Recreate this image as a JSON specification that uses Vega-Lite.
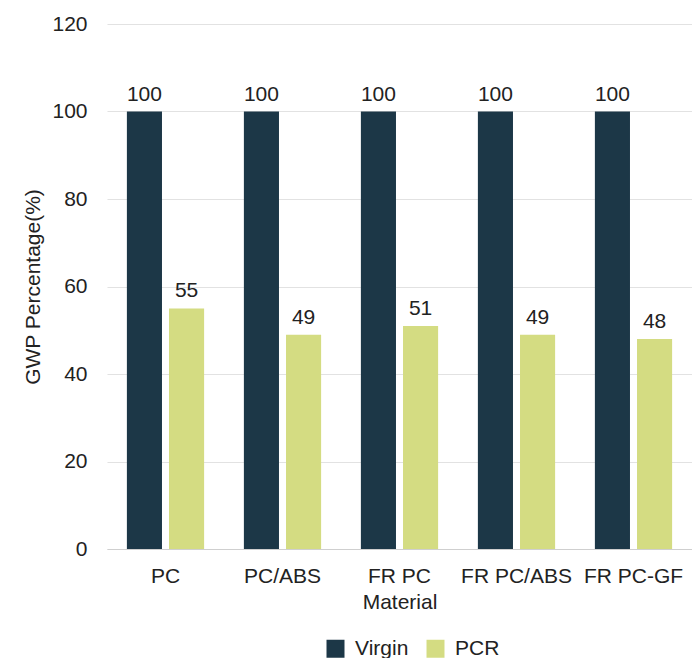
{
  "$schema": "https://vega.github.io/schema/vega-lite/v6.json",
  "autosize": "none",
  "padding": {"left": 107, "top": 24, "right": 0, "bottom": 109},
  "width": 585,
  "height": 525,
  "background": "white",
  "config": {
    "font": "Liberation Sans",
    "view": {"stroke": null}
  },
  "data": {
    "values": [
      {"material": "PC", "type": "Virgin", "gwp": 100},
      {"material": "PC", "type": "PCR", "gwp": 55},
      {"material": "PC/ABS", "type": "Virgin", "gwp": 100},
      {"material": "PC/ABS", "type": "PCR", "gwp": 49},
      {"material": "FR PC", "type": "Virgin", "gwp": 100},
      {"material": "FR PC", "type": "PCR", "gwp": 51},
      {"material": "FR PC/ABS", "type": "Virgin", "gwp": 100},
      {"material": "FR PC/ABS", "type": "PCR", "gwp": 49},
      {"material": "FR PC-GF", "type": "Virgin", "gwp": 100},
      {"material": "FR PC-GF", "type": "PCR", "gwp": 48}
    ]
  },
  "encoding": {
    "x": {
      "field": "material",
      "type": "nominal",
      "sort": ["PC", "PC/ABS", "FR PC", "FR PC/ABS", "FR PC-GF"],
      "scale": {"paddingInner": 0.34, "paddingOuter": 0.17},
      "axis": {
        "title": "Material",
        "labelAngle": 0,
        "labelFontSize": 21,
        "labelColor": "#222",
        "labelPadding": 16,
        "titleFontSize": 21,
        "titleFontWeight": "normal",
        "titleColor": "#222",
        "titlePadding": 5,
        "ticks": false,
        "domainColor": "#cfcfcf",
        "grid": false
      }
    },
    "xOffset": {
      "field": "type",
      "type": "nominal",
      "sort": ["Virgin", "PCR"],
      "scale": {"paddingInner": 0.167, "paddingOuter": 0}
    },
    "y": {
      "field": "gwp",
      "type": "quantitative",
      "scale": {"domain": [0, 120]},
      "axis": {
        "title": "GWP Percentage(%)",
        "values": [0, 20, 40, 60, 80, 100, 120],
        "labelFontSize": 21,
        "labelColor": "#222",
        "labelPadding": 20,
        "titleFontSize": 21,
        "titleFontWeight": "normal",
        "titleColor": "#222",
        "titlePadding": 8,
        "ticks": false,
        "domain": false,
        "gridColor": "#e2e2e2",
        "gridWidth": 1.2
      }
    }
  },
  "layer": [
    {
      "mark": {"type": "bar"},
      "encoding": {
        "color": {
          "field": "type",
          "type": "nominal",
          "sort": ["Virgin", "PCR"],
          "scale": {"domain": ["Virgin", "PCR"], "range": ["#1c3747", "#d4dc82"]},
          "legend": {
            "title": null,
            "orient": "none",
            "direction": "horizontal",
            "legendX": 218,
            "legendY": 614,
            "symbolType": "square",
            "symbolSize": 324,
            "symbolStrokeWidth": 0,
            "labelFontSize": 21,
            "labelColor": "#222",
            "labelOffset": 9,
            "columnPadding": 16
          }
        }
      }
    },
    {
      "mark": {"type": "text", "baseline": "bottom", "dy": -7, "fontSize": 21, "color": "#222"},
      "encoding": {
        "text": {"field": "gwp", "type": "quantitative"}
      }
    }
  ]
}
